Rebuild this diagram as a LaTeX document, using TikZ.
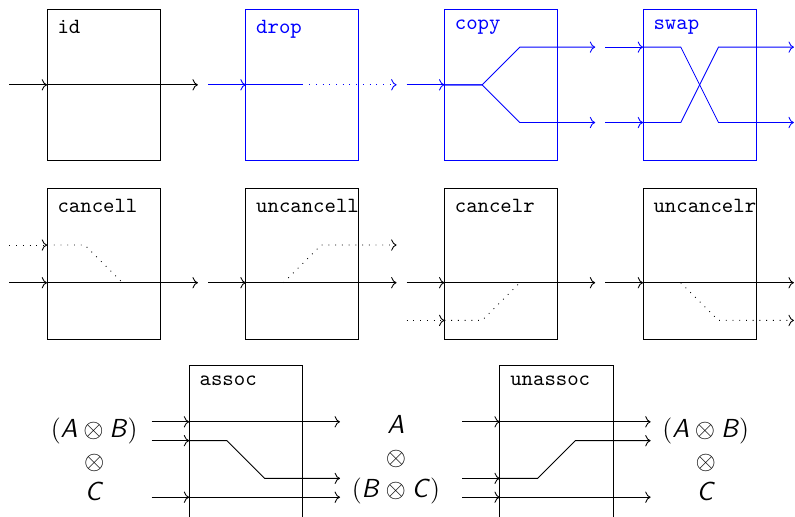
\documentclass[tikz,border=0pt]{standalone}
\usepackage{tikz}
\usetikzlibrary{arrows.meta,positioning,calc}
\newcommand{\sv}[1]{\textsf{\textit{#1}}}

\begin{document}
\begin{tikzpicture}[
  x=17.35pt,y=17.35pt,
  gate/.style={draw,minimum width=52.05pt,minimum height=69.4pt,inner sep=0pt,outer sep=0pt},
  tall/.style={minimum height=86.75pt},
  tag/.style={anchor=north west,inner sep=4.6pt,font=\ttfamily},
  dots/.style={dash pattern=on 0.4pt off 2.7pt},
  tens/.style={align=center,inner sep=0pt,font=\fontsize{12}{14.6}\selectfont},
]
\useasboundingbox (0,0) rectangle (21.09,-13.71);
\node[gate,anchor=north west,label={[tag]north west:id}] (id) at (1.25,-0.25) {};
\node[gate,blue,right=2.27 of id,label={[tag,blue]north west:drop}] (dr) {};
\node[gate,blue,right=2.27 of dr,label={[tag,blue]north west:copy}] (cp) {};
\node[gate,blue,right=2.27 of cp,label={[tag,blue]north west:swap}] (sw) {};
\node[gate,below=0.75 of id,label={[tag]north west:cancell}] (cl) {};
\node[gate,right=2.27 of cl,label={[tag]north west:uncancell}] (ucl) {};
\node[gate,right=2.27 of ucl,label={[tag]north west:cancelr}] (cr) {};
\node[gate,right=2.27 of cr,label={[tag]north west:uncancelr}] (ucr) {};
\node[gate,tall,below=0.69 of ucl.south west,label={[tag]north west:assoc}] (asc) {};
\node[gate,tall,right=5.24 of asc,label={[tag]north west:unassoc}] (uas) {};
\node[tens,left=1.36 of asc] (lhs) {$(\sv{A}\otimes\sv{B})$\\$\otimes$\\$\sv{C}$};
\node[tens,right=1.3 of asc] (mid) {$\sv{A}$\\$\otimes$\\$(\sv{B}\otimes\sv{C})$};
\node[tens,right=1.3 of uas] (rhs) {$(\sv{A}\otimes\sv{B})$\\$\otimes$\\$\sv{C}$};

\draw[->] ($(id.west)+(-1,0)$) -- (id.west);
\draw[->] (id.west) -- ($(id.east)+(1,0)$);
\begin{scope}[blue]
\draw[->] ($(dr.west)+(-1,0)$) -- (dr.west);
\draw (dr.west) -- (dr.center);
\draw[dots,->] (dr.center) -- ($(dr.east)+(1,0)$);
\draw[->] ($(cp.west)+(-1,0)$) -- (cp.west);
\draw[->] (cp.west) -- ++(1,0) -- ++(1,1) -- ($(cp.east)+(1,1)$);
\draw[->] (cp.west) -- ++(1,0) -- ++(1,-1) -- ($(cp.east)+(1,-1)$);
\draw[->] ($(sw.west)+(-1,1)$) -- ($(sw.west)+(0,1)$);
\draw[->] ($(sw.west)+(-1,-1)$) -- ($(sw.west)+(0,-1)$);
\draw[->] ($(sw.west)+(0,1)$) -- ++(1,0) -- ++(1,-2) -- ($(sw.east)+(1,-1)$);
\draw[->] ($(sw.west)+(0,-1)$) -- ++(1,0) -- ++(1,2) -- ($(sw.east)+(1,1)$);
\end{scope}

\draw[->] ($(cl.west)+(-1,-0.5)$) -- ($(cl.west)+(0,-0.5)$);
\draw[->] ($(cl.west)+(0,-0.5)$) -- ($(cl.east)+(1,-0.5)$);
\draw[dots,->] ($(cl.west)+(-1,0.5)$) -- ($(cl.west)+(0,0.5)$);
\draw[dots] ($(cl.west)+(0,0.5)$) -- ++(1,0) -- ++(1,-1);
\draw[->] ($(ucl.west)+(-1,-0.5)$) -- ($(ucl.west)+(0,-0.5)$);
\draw[->] ($(ucl.west)+(0,-0.5)$) -- ($(ucl.east)+(1,-0.5)$);
\draw[dots,->] ($(ucl.west)+(1,-0.5)$) -- ++(1,1) -- ($(ucl.east)+(1,0.5)$);
\draw[->] ($(cr.west)+(-1,-0.5)$) -- ($(cr.west)+(0,-0.5)$);
\draw[->] ($(cr.west)+(0,-0.5)$) -- ($(cr.east)+(1,-0.5)$);
\draw[dots,->] ($(cr.west)+(-1,-1.5)$) -- ($(cr.west)+(0,-1.5)$);
\draw[dots] ($(cr.west)+(0,-1.5)$) -- ++(1,0) -- ++(1,1);
\draw[->] ($(ucr.west)+(-1,-0.5)$) -- ($(ucr.west)+(0,-0.5)$);
\draw[->] ($(ucr.west)+(0,-0.5)$) -- ($(ucr.east)+(1,-0.5)$);
\draw[dots,->] ($(ucr.west)+(1,-0.5)$) -- ++(1,-1) -- ($(ucr.east)+(1,-1.5)$);

\draw[->] ($(asc.north west)+(-1,-1.5)$) -- ($(asc.north west)+(0,-1.5)$);
\draw[->] ($(asc.north west)+(0,-1.5)$) -- ($(asc.north east)+(1,-1.5)$);
\draw[->] ($(asc.north west)+(-1,-2)$) -- ($(asc.north west)+(0,-2)$);
\draw[->] ($(asc.north west)+(0,-2)$) -- ++(1,0) -- ++(1,-1) -- ($(asc.north east)+(1,-3)$);
\draw[->] ($(asc.north west)+(-1,-3.5)$) -- ($(asc.north west)+(0,-3.5)$);
\draw[->] ($(asc.north west)+(0,-3.5)$) -- ($(asc.north east)+(1,-3.5)$);
\draw[->] ($(uas.north west)+(-1,-1.5)$) -- ($(uas.north west)+(0,-1.5)$);
\draw[->] ($(uas.north west)+(0,-1.5)$) -- ($(uas.north east)+(1,-1.5)$);
\draw[->] ($(uas.north west)+(-1,-3)$) -- ($(uas.north west)+(0,-3)$);
\draw[->] ($(uas.north west)+(0,-3)$) -- ++(1,0) -- ++(1,1) -- ($(uas.north east)+(1,-2)$);
\draw[->] ($(uas.north west)+(-1,-3.5)$) -- ($(uas.north west)+(0,-3.5)$);
\draw[->] ($(uas.north west)+(0,-3.5)$) -- ($(uas.north east)+(1,-3.5)$);
\end{tikzpicture}
\end{document}
